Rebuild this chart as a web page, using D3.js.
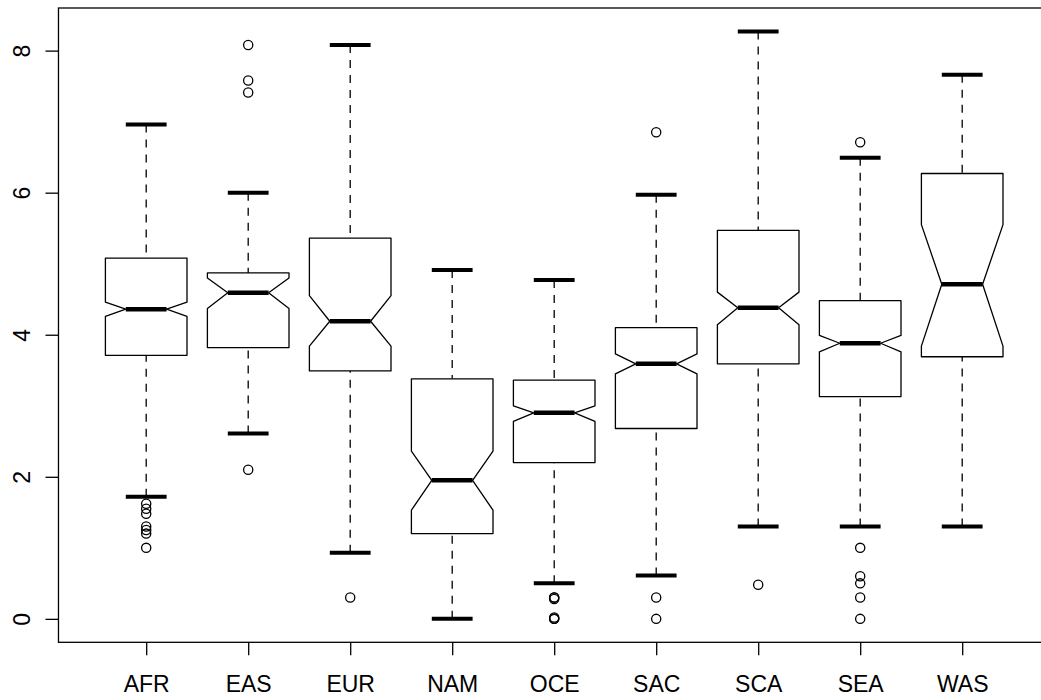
<!DOCTYPE html>
<html>
<head>
<meta charset="utf-8">
<script src="https://cdn.jsdelivr.net/npm/d3@7"></script>
<style>
  html, body { margin: 0; padding: 0; background: #fff; }
  svg { display: block; }
  text { font-family: "Liberation Sans", Arial, Helvetica, sans-serif; fill: #000; }
</style>
</head>
<body>
<svg id="chart" width="1041" height="700"></svg>
<script>
// ---- data ----
const categories   = ["AFR", "EAS", "EUR", "NAM", "OCE", "SAC", "SCA", "SEA", "WAS"];
const whiskerLow   = [1.72, 2.61, 0.93, 0.00, 0.50, 0.61, 1.30, 1.30, 1.30];
const q1           = [3.71, 3.82, 3.49, 1.20, 2.20, 2.68, 3.59, 3.13, 3.69];
const notchLow     = [4.26, 4.37, 3.84, 1.53, 2.78, 3.45, 4.14, 3.76, 3.84];
const medians      = [4.36, 4.59, 4.19, 1.95, 2.90, 3.59, 4.38, 3.88, 4.71];
const notchHigh    = [4.46, 4.80, 4.55, 2.36, 3.00, 3.73, 4.60, 3.99, 5.55];
const q3           = [5.08, 4.87, 5.36, 3.38, 3.36, 4.10, 5.47, 4.48, 6.27];
const whiskerHigh  = [6.96, 6.00, 8.08, 4.91, 4.77, 5.97, 8.27, 6.49, 7.66];
const outliers = [
  [1.62, 1.55, 1.48, 1.30, 1.25, 1.20, 1.00],
  [2.10, 7.41, 7.58, 8.08],
  [0.30],
  [],
  [0.30, 0.30, 0.28, 0.00, 0.00, 0.02],
  [6.85, 0.30, 0.00],
  [0.48],
  [6.71, 1.00, 0.60, 0.50, 0.30, 0.00],
  []
];
const yTicks = [0, 2, 4, 6, 8];

// ---- layout ----
const svg = d3.select("#chart");
const x = d3.scaleLinear().domain([1, 9]).range([146.2, 962.2]);
const y = d3.scaleLinear().domain([-0.33, 8.6]).range([642.3, 8]);
const xLeft = x(0.14), xRight = x(9.86);
const boxHalf = x(1.4) - x(1);     // boxwex 0.8
const capHalf = x(1.2) - x(1);     // staple half width
const fontSize = 23;

const boxes = categories.map((c, i) => ({
  cat: c, i: i + 1,
  lo: whiskerLow[i], q1: q1[i], nlo: notchLow[i], med: medians[i],
  nhi: notchHigh[i], q3: q3[i], hi: whiskerHigh[i], out: outliers[i]
}));

// frame
svg.append("rect")
  .attr("x", xLeft).attr("y", y(8.6))
  .attr("width", xRight - xLeft).attr("height", y(-0.33) - y(8.6))
  .attr("fill", "none").attr("stroke", "#000").attr("stroke-width", 1.3);

const g = svg.append("g");
const bg = g.selectAll("g.box").data(boxes).join("g").attr("class", "box");

// whiskers (dashed)
bg.append("line")
  .attr("x1", d => x(d.i)).attr("x2", d => x(d.i))
  .attr("y1", d => y(d.lo)).attr("y2", d => y(d.q1))
  .attr("stroke", "#000").attr("stroke-width", 1.3).attr("stroke-dasharray", "8,7");
bg.append("line")
  .attr("x1", d => x(d.i)).attr("x2", d => x(d.i))
  .attr("y1", d => y(d.hi)).attr("y2", d => y(d.q3))
  .attr("stroke", "#000").attr("stroke-width", 1.3).attr("stroke-dasharray", "8,7");

// staples
bg.append("line")
  .attr("x1", d => x(d.i) - capHalf).attr("x2", d => x(d.i) + capHalf)
  .attr("y1", d => y(d.lo)).attr("y2", d => y(d.lo))
  .attr("stroke", "#000").attr("stroke-width", 4);
bg.append("line")
  .attr("x1", d => x(d.i) - capHalf).attr("x2", d => x(d.i) + capHalf)
  .attr("y1", d => y(d.hi)).attr("y2", d => y(d.hi))
  .attr("stroke", "#000").attr("stroke-width", 4);

// notched box
bg.append("path")
  .attr("d", d => {
    const cx = x(d.i), w = boxHalf, h = boxHalf / 2;
    const pts = [
      [cx - w, y(d.q1)], [cx + w, y(d.q1)], [cx + w, y(d.nlo)], [cx + h, y(d.med)],
      [cx + w, y(d.nhi)], [cx + w, y(d.q3)], [cx - w, y(d.q3)], [cx - w, y(d.nhi)],
      [cx - h, y(d.med)], [cx - w, y(d.nlo)]
    ];
    return d3.line()(pts) + "Z";
  })
  .attr("fill", "#fff").attr("stroke", "#000").attr("stroke-width", 1.3)
  .attr("stroke-linejoin", "round");

// median
bg.append("line")
  .attr("x1", d => x(d.i) - boxHalf / 2).attr("x2", d => x(d.i) + boxHalf / 2)
  .attr("y1", d => y(d.med)).attr("y2", d => y(d.med))
  .attr("stroke", "#000").attr("stroke-width", 4.5);

// outliers
bg.selectAll("circle").data(d => d.out.map(v => ({ i: d.i, v }))).join("circle")
  .attr("cx", d => x(d.i)).attr("cy", d => y(d.v)).attr("r", 4.6)
  .attr("fill", "none").attr("stroke", "#000").attr("stroke-width", 1.3);

// y axis
const yAxis = svg.append("g").attr("transform", `translate(${xLeft},0)`)
  .call(d3.axisLeft(y).tickValues(yTicks).tickSize(13).tickFormat(d3.format("d")));
yAxis.select(".domain").remove();
yAxis.selectAll(".tick line").attr("stroke", "#000").attr("stroke-width", 1.3);
yAxis.selectAll(".tick text")
  .attr("transform", "rotate(-90)")
  .attr("x", 0).attr("y", -28.5).attr("dy", 0)
  .attr("text-anchor", "middle")
  .style("font-size", fontSize + "px")
  .style("font-family", "'Liberation Sans', Arial, sans-serif");

// x axis
const xAxis = svg.append("g").attr("transform", `translate(0,${y(-0.33)})`)
  .call(d3.axisBottom(x).tickValues(d3.range(1, categories.length + 1)).tickSize(13)
    .tickFormat(d => categories[d - 1]));
xAxis.select(".domain").remove();
xAxis.selectAll(".tick line").attr("stroke", "#000").attr("stroke-width", 1.3);
xAxis.selectAll(".tick text")
  .attr("y", 50).attr("dy", 0)
  .style("font-size", fontSize + "px")
  .style("font-family", "'Liberation Sans', Arial, sans-serif");
</script>
</body>
</html>
